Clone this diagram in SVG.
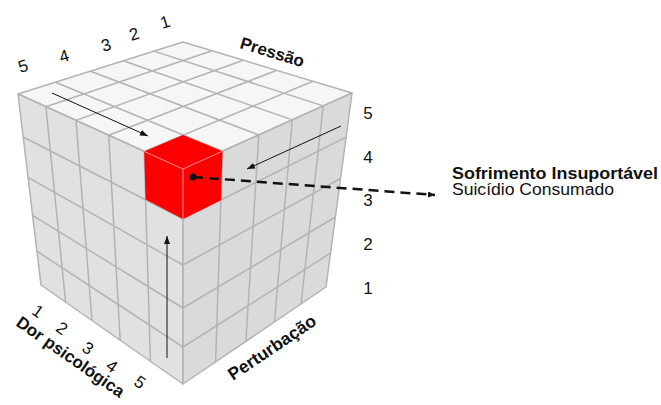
<svg xmlns="http://www.w3.org/2000/svg" width="661" height="405" viewBox="0 0 661 405">
<style>
.grid{fill:none;stroke:#b3b3b3;stroke-width:1.5;stroke-linejoin:round}
.face{stroke:#b3b3b3;stroke-width:1.5;stroke-linejoin:round}
.lbl{font-family:"Liberation Sans",Arial,sans-serif;fill:#111}
.b{font-weight:bold}
.num{font-family:"Liberation Sans",Arial,sans-serif;font-size:17px;fill:#111;text-anchor:middle}
.arrow{fill:none;stroke:#111;stroke-width:1}
</style>
<defs>
<marker id="ah" markerUnits="userSpaceOnUse" markerWidth="9" markerHeight="7" refX="8" refY="3.5" orient="auto">
<path d="M0,0.5 L8,3.5 L0,6.5 z" fill="#111"/>
</marker>
<marker id="ahd" markerUnits="userSpaceOnUse" markerWidth="8" markerHeight="6" refX="7" refY="3" orient="auto">
<path d="M0,0 L7,3 L0,6 z" fill="#111"/>
</marker>
</defs>
<rect width="661" height="405" fill="#ffffff"/>
<g id="cube">
<polygon class="face" points="18,94 183,42 352,93 183,169" fill="#f6f6f6"/>
<polygon class="face" points="18,94 183,169 183,384 41,285" fill="#e1e1e1"/>
<polygon class="face" points="183,169 352,93 326,287 183,384" fill="#dadada"/>
<path class="grid" d="M45.9,106.7 L212.1,50.8 M76,120.4 L243.3,60.2 M108.7,135.2 L276.8,70.3 M144.2,151.4 L312.9,81.2 M55.5,82.2 L222.5,151.2 M90.5,71.2 L258.8,134.9 M123.3,60.8 L292.3,119.9 M154,51.1 L323.2,105.9"/>
<path class="grid" d="M45.9,106.7 L65.6,302.2 M76,120.4 L92,320.5 M108.7,135.2 L120.2,340.2 M144.2,151.4 L150.4,361.3 M23.2,137 L183,219 M28,177.4 L183,265 M32.6,215.4 L183,308 M36.9,251.2 L183,347"/>
<path class="grid" d="M222.5,151.2 L215.6,361.9 M258.8,134.9 L245.9,341.3 M292.3,119.9 L274.4,322 M323.2,105.9 L301,304 M183,219 L346.1,137.2 M183,265 L340.5,178.5 M183,308 L335.4,217 M183,347 L330.5,253.1"/>
</g>
<g id="red-cube">
<polygon points="183,135 222.5,151.2 220.9,200.2 183,219 145.6,199.5 144.2,151.4" fill="#ff0000"/>
<path d="M144.2,151.4 L183,169 L222.5,151.2 M183,169 L183,219" fill="none" stroke="#ff9090" stroke-width="1"/>
</g>
<g id="connectors">
<path class="arrow" d="M52,93 L148,136" marker-end="url(#ah)"/>
<path class="arrow" d="M341,126 L247,169" marker-end="url(#ah)"/>
<path class="arrow" d="M167,358 L167,236" marker-end="url(#ah)"/>
<circle cx="193" cy="177" r="3.5" fill="#111"/>
<path d="M193,177 L435,195" fill="none" stroke="#111" stroke-width="2.5" stroke-dasharray="10,6" marker-end="url(#ahd)"/>
</g>
<g id="axis-pressao">
<text class="lbl b" font-size="17" x="239" y="48" transform="rotate(17 239 48)">Pressão</text>
<text class="num" x="23" y="72" transform="rotate(-17 23 66)">5</text>
<text class="num" x="64" y="62" transform="rotate(-17 64 56)">4</text>
<text class="num" x="106" y="51" transform="rotate(-17 106 45)">3</text>
<text class="num" x="134" y="40" transform="rotate(-17 134 34)">2</text>
<text class="num" x="165" y="28" transform="rotate(-17 165 22)">1</text>
</g>
<g id="axis-perturbacao">
<text class="lbl b" font-size="17.5" x="233" y="381" transform="rotate(-34 233 381)">Perturbação</text>
<text class="num" x="368" y="119">5</text>
<text class="num" x="368" y="163">4</text>
<text class="num" x="368" y="206">3</text>
<text class="num" x="368" y="250">2</text>
<text class="num" x="368" y="294">1</text>
</g>
<g id="axis-dor">
<text class="lbl b" font-size="17" x="15" y="325" transform="rotate(35 15 325)">Dor psicológica</text>
<text class="num" x="38" y="317" transform="rotate(35 38 311)">1</text>
<text class="num" x="62" y="334" transform="rotate(35 62 328)">2</text>
<text class="num" x="88" y="354" transform="rotate(35 88 348)">3</text>
<text class="num" x="112" y="372" transform="rotate(35 112 366)">4</text>
<text class="num" x="140" y="388" transform="rotate(35 140 382)">5</text>
</g>
<g id="outcome">
<text class="lbl b" font-size="16" x="452" y="179" textLength="206" lengthAdjust="spacingAndGlyphs">Sofrimento Insuportável</text>
<text class="lbl" font-size="16" x="452" y="195" textLength="162" lengthAdjust="spacingAndGlyphs">Suicídio Consumado</text>
</g>
</svg>
